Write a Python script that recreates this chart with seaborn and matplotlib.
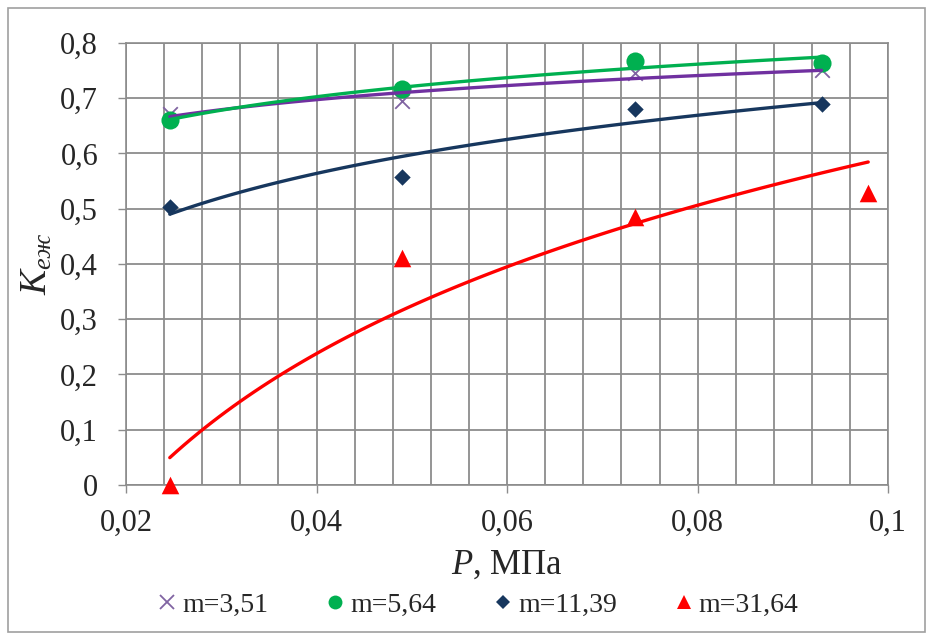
import numpy as np
import pandas as pd
import seaborn as sns
import matplotlib.pyplot as plt
from matplotlib.patches import Rectangle
from matplotlib.lines import Line2D

# pressure, MPa
p_351 = [0.0246, 0.049, 0.0734, 0.093]
k_351 = [0.672, 0.695, 0.745, 0.750]
p_564 = [0.0246, 0.049, 0.0734, 0.093]
k_564 = [0.660, 0.717, 0.768, 0.764]
p_1139 = [0.0246, 0.049, 0.0734, 0.093]
k_1139 = [0.503, 0.558, 0.681, 0.690]
p_3164 = [0.0246, 0.049, 0.0734, 0.0979]
k_3164 = [0.0, 0.410, 0.485, 0.528]

labels = ['m=3,51', 'm=5,64', 'm=11,39', 'm=31,64']
xticks = [0.02, 0.04, 0.06, 0.08, 0.1]
xtick_labels = ['0,02', '0,04', '0,06', '0,08', '0,1']
yticks = [0, 0.1, 0.2, 0.3, 0.4, 0.5, 0.6, 0.7, 0.8]
ytick_labels = ['0', '0,1', '0,2', '0,3', '0,4', '0,5', '0,6', '0,7', '0,8']

sns.set_theme(style='white')
plt.rcParams['font.family'] = ['Liberation Serif']
plt.rcParams['mathtext.fontset'] = 'custom'
plt.rcParams['mathtext.it'] = 'Liberation Serif:italic'
plt.rcParams['mathtext.rm'] = 'Liberation Serif'

fig = plt.figure(figsize=(9.33, 6.39), dpi=100)
ax = fig.add_axes([0.135, 0.241, 0.817, 0.692])

series = [
    (p_351, k_351, 'x', '#8064A2', '#7030A0', 110),
    (p_564, k_564, 'o', '#00B050', '#00B050', 170),
    (p_1139, k_1139, 'D', '#17375E', '#17375E', 70),
    (p_3164, k_3164, '^', '#FF0000', '#FF0000', 160),
]

handles = []
for (px, ky, mk, mc, lc, sz), lab in zip(series, labels):
    df = pd.DataFrame({'p': px, 'k': ky})
    sns.scatterplot(data=df, x='p', y='k', marker=mk, s=sz, color=mc,
                    linewidth=1.3 if mk == 'x' else 0, ax=ax, clip_on=False, zorder=3)
    # logarithmic trend line, as in the original
    sns.regplot(data=df, x='p', y='k', logx=True, ci=None, scatter=False,
                line_kws={'color': lc, 'lw': 2.4, 'zorder': 4}, ax=ax)
    handles.append(Line2D([], [], ls='none', marker=mk, color=mc,
                          markersize=10 if mk != 'D' else 7,
                          markeredgewidth=1.3 if mk == 'x' else 0, label=lab))

ax.set_xlim(0.02, 0.1)
ax.set_ylim(0, 0.8)
ax.set_xticks(xticks)
ax.set_xticklabels(xtick_labels)
ax.set_yticks(yticks)
ax.set_yticklabels(ytick_labels)
ax.set_xticks(np.arange(0.024, 0.1, 0.004), minor=True)
ax.grid(True, which='both', axis='x', color='#8c8c8c', lw=1.3)
ax.grid(True, which='major', axis='y', color='#8c8c8c', lw=1.3)
ax.set_axisbelow(True)
ax.tick_params(axis='both', which='major', labelsize=22, length=6, width=1,
               color='#8c8c8c', direction='out', bottom=True, left=True)
ax.tick_params(axis='x', which='major', pad=11)
ax.tick_params(axis='y', which='major', pad=14)
ax.tick_params(axis='x', which='minor', length=0)
for s in ax.spines.values():
    s.set_color('#8c8c8c')
    s.set_linewidth(1.2)

ax.set_xlabel(r'$P$, МПа', fontsize=25, labelpad=8)
ax.set_ylabel(r'$К_{еж}$', fontsize=27, labelpad=4)

fig.legend(handles=handles, loc='center', bbox_to_anchor=(0.51, 0.053), ncol=4,
           frameon=False, fontsize=20, handletextpad=0.05, columnspacing=1.9,
           handlelength=1.0)

fig.patches.append(Rectangle((0.009, 0.011), 0.982, 0.977, transform=fig.transFigure,
                             fill=False, edgecolor='#a0a0a0', lw=1.2))

fig.savefig('out.png', dpi=100)
